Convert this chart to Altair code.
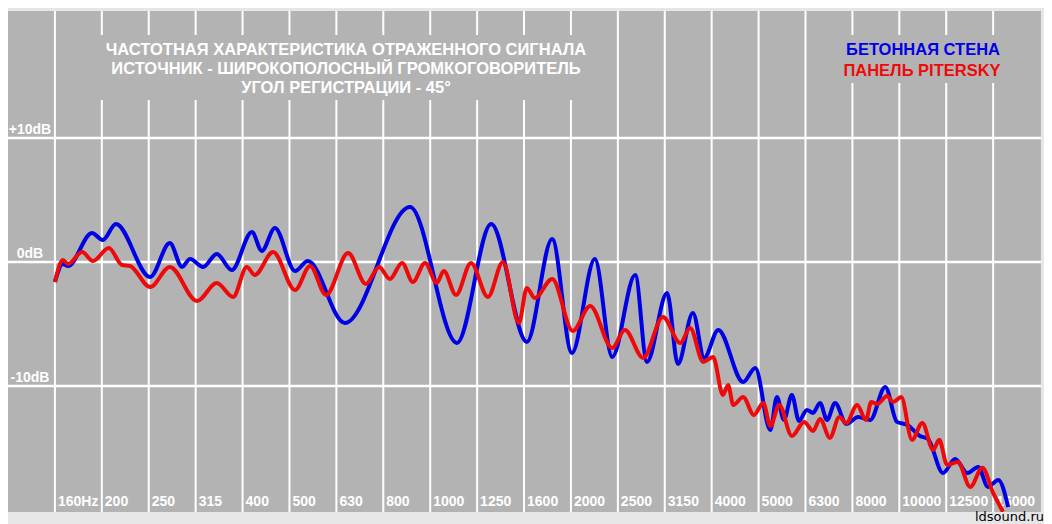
import pandas as pd
import altair as alt

# x = position in 1/3-octave bands counted from 160 Hz, y = level in dB
band_labels = ["160Hz", "200", "250", "315", "400", "500", "630", "800", "1000", "1250",
               "1600", "2000", "2500", "3150", "4000", "5000", "6300", "8000", "10000",
               "12500", "16000"]
db_levels = [10, 0, -10]
db_labels = ["+10dB", "0dB", "-10dB"]

blue_band = [0.00, 0.17, 0.28, 0.79, 1.02, 1.30, 2.03, 2.45, 2.71, 2.88, 3.16, 3.45, 3.77,
             4.20, 4.41, 4.69, 5.12, 5.39, 6.18, 7.57, 8.57, 9.30, 10.06, 10.60, 11.02,
             11.51, 11.88, 12.37, 12.62, 13.05, 13.28, 13.60, 13.84, 14.14, 14.67, 14.93,
             15.25, 15.39, 15.54, 15.71, 15.86, 16.03, 16.16, 16.31, 16.46, 16.63, 16.87,
             17.12, 17.38, 17.70, 17.95, 18.17, 18.44, 18.61, 18.93, 19.19, 19.45, 19.68,
             19.89, 20.11, 20.32]
blue_db = [-1.61, -0.16, -0.32, 2.34, 1.77, 3.06, -1.21, 1.53, -0.40, 0.24, -0.40, 0.65,
           -0.65, 2.42, 0.89, 2.74, -0.73, 0.08, -4.92, 4.44, -6.53, 3.06, -6.45, 1.85,
           -7.34, 0.24, -7.66, -1.05, -8.06, -2.50, -8.23, -4.11, -7.74, -5.48, -9.68,
           -8.55, -13.55, -10.89, -12.74, -10.73, -12.82, -11.94, -12.18, -11.37, -12.74,
           -11.37, -13.06, -12.50, -12.74, -10.08, -12.90, -13.15, -14.03, -14.27, -17.02,
           -15.89, -17.02, -16.53, -18.15, -17.58, -19.76]

red_band = [0.00, 0.17, 0.28, 0.58, 0.81, 1.15, 1.43, 1.60, 2.03, 2.45, 3.03, 3.45, 3.80,
            4.09, 4.26, 4.65, 5.12, 5.44, 5.78, 6.25, 6.63, 6.91, 7.14, 7.40, 7.63, 7.89,
            8.14, 8.29, 8.55, 8.87, 9.23, 9.55, 9.89, 10.06, 10.23, 10.60, 11.04, 11.41,
            11.88, 12.15, 12.54, 12.96, 13.33, 13.54, 13.82, 14.03, 14.24, 14.35, 14.46,
            14.67, 14.90, 15.10, 15.25, 15.44, 15.71, 15.97, 16.16, 16.31, 16.52, 16.72,
            16.87, 17.10, 17.29, 17.40, 17.53, 17.74, 17.87, 18.04, 18.27, 18.49, 18.72,
            18.85, 19.02, 19.25, 19.51, 19.77, 20.00, 20.21]
red_db = [-1.61, 0.16, -0.16, 0.81, 0.08, 1.13, -0.24, -0.32, -2.02, -0.40, -3.15, -1.69,
          -2.82, -0.40, -1.05, 0.81, -2.26, -0.32, -2.66, 0.73, -1.77, -0.40, -1.37, -0.08,
          -1.61, -0.08, -1.69, -0.73, -2.66, -0.08, -2.82, 0.00, -4.92, -2.10, -2.90, -1.37,
          -5.56, -3.55, -6.94, -5.48, -7.74, -4.44, -6.53, -5.32, -8.06, -7.66, -10.73,
          -9.92, -11.53, -10.89, -12.34, -11.37, -13.23, -11.53, -14.03, -12.90, -13.63,
          -12.66, -14.19, -12.50, -12.98, -11.53, -12.74, -11.29, -11.45, -10.81, -11.29,
          -10.89, -14.35, -12.98, -15.16, -14.35, -16.37, -16.13, -18.15, -16.61, -18.63,
          -20.16]

W, H = 1033, 501
BG = "#b3b3b3"
FONT = "Liberation Sans"
BLUE = "#0000e6"
RED = "#ee0a0a"

x_scale = alt.Scale(domain=[-1, 21.02], nice=False, zero=False)
y_scale = alt.Scale(domain=[-20.17, 20.25], nice=False, zero=False)

bands = pd.DataFrame({"band": list(range(len(band_labels))), "label": band_labels})
levels = pd.DataFrame({"db": db_levels, "label": db_labels})
blue = pd.DataFrame({"band": blue_band, "db": blue_db})
red = pd.DataFrame({"band": red_band, "db": red_db})
one = pd.DataFrame({"k": [0]})

vlines = alt.Chart(bands).mark_rule(color="white", strokeWidth=2).encode(
    x=alt.X("band:Q", scale=x_scale, axis=None),
    y=alt.value(0), y2=alt.value(H),
)
hlines = alt.Chart(levels).mark_rule(color="white", strokeWidth=2.5).encode(
    y=alt.Y("db:Q", scale=y_scale, axis=None),
    x=alt.value(0), x2=alt.value(W),
)

# grey patches behind the title and the legend, cutting the grid lines
title_box = alt.Chart(one).mark_rect(color=BG).encode(
    x=alt.value(72), x2=alt.value(587), y=alt.value(24), y2=alt.value(89)
)
legend_box = alt.Chart(one).mark_rect(color=BG).encode(
    x=alt.value(822), x2=alt.value(1012), y=alt.value(24), y2=alt.value(72)
)

band_text = alt.Chart(bands).mark_text(
    color="white", font=FONT, fontWeight="bold", fontSize=14,
    align="left", baseline="alphabetic", dx=3
).encode(x=alt.X("band:Q", scale=x_scale), y=alt.value(H - 6), text="label:N")

level_text = alt.Chart(levels).mark_text(
    color="white", font=FONT, fontWeight="bold", fontSize=14,
    align="center", baseline="alphabetic", dy=-4
).encode(y=alt.Y("db:Q", scale=y_scale), x=alt.value(22), text="label:N")

title_text = alt.Chart(one).mark_text(
    color="white", font=FONT, fontWeight="bold", fontSize=16.5,
    align="center", baseline="top", lineBreak="\n", lineHeight=19
).encode(
    x=alt.value(338), y=alt.value(31),
    text=alt.value("ЧАСТОТНАЯ ХАРАКТЕРИСТИКА ОТРАЖЕННОГО СИГНАЛА\n"
                   "ИСТОЧНИК - ШИРОКОПОЛОСНЫЙ ГРОМКОГОВОРИТЕЛЬ\n"
                   "УГОЛ РЕГИСТРАЦИИ - 45°"),
)

legend_blue = alt.Chart(one).mark_text(
    color=BLUE, font=FONT, fontWeight="bold", fontSize=16.5, align="center", baseline="middle"
).encode(x=alt.value(915), y=alt.value(39), text=alt.value("БЕТОННАЯ  СТЕНА"))
legend_red = alt.Chart(one).mark_text(
    color=RED, font=FONT, fontWeight="bold", fontSize=16.5, align="center", baseline="middle"
).encode(x=alt.value(914), y=alt.value(60), text=alt.value("ПАНЕЛЬ PITERSKY"))

credit = alt.Chart(one).mark_text(
    color="black", font="DejaVu Sans", fontSize=13, align="right", baseline="alphabetic"
).encode(x=alt.value(1036), y=alt.value(H + 9), text=alt.value("ldsound.ru"))

blue_line = alt.Chart(blue).mark_line(
    color=BLUE, strokeWidth=4, interpolate="monotone", clip=True
).encode(x=alt.X("band:Q", scale=x_scale), y=alt.Y("db:Q", scale=y_scale))
red_line = alt.Chart(red).mark_line(
    color=RED, strokeWidth=4, interpolate="monotone", clip=True
).encode(x=alt.X("band:Q", scale=x_scale), y=alt.Y("db:Q", scale=y_scale))

chart = alt.layer(
    vlines, hlines, title_box, legend_box, band_text, level_text, title_text,
    legend_blue, legend_red, blue_line, red_line, credit
).properties(
    width=W, height=H,
    autosize=alt.AutoSizeParams(type="none"),
    padding={"left": 0, "top": 3, "right": 3, "bottom": 12},
    background="#e6e6e6",
).configure_view(fill=BG, stroke=None)

chart.save("out.html", embed_options={"renderer": "svg", "actions": False})
